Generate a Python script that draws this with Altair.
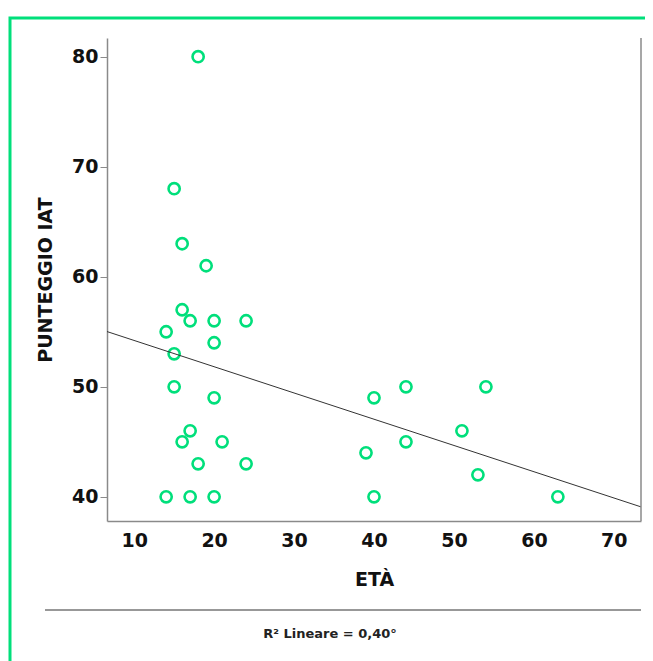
import altair as alt
import pandas as pd

# Data
eta = [18, 15, 16, 19, 16, 14, 17, 20, 24, 20, 15, 15, 20, 17, 16, 21, 18, 24, 14, 17, 20,
       40, 44, 54, 51, 39, 44, 40, 53, 63]
punteggio = [80, 68, 63, 61, 57, 55, 56, 56, 56, 54, 53, 50, 49, 46, 45, 45, 43, 43, 40, 40, 40,
             49, 50, 50, 46, 44, 45, 40, 42, 40]
x_ticks = [10, 20, 30, 40, 50, 60, 70]
y_ticks = [40, 50, 60, 70, 80]
x_domain = [6.6, 73.4]
y_domain = [37.8, 81.7]
x_title = "ETÀ"
y_title = "PUNTEGGIO IAT"
r2_text = "R² Lineare = 0,40°"

df = pd.DataFrame({"eta": eta, "punteggio": punteggio})
one = pd.DataFrame({"k": [0]})

W, H = 534, 483
GREEN = "#00DF7B"
FRAME = "#8a8a8a"
FONT = "DejaVu Sans"

x_enc = alt.X(
    "eta:Q",
    scale=alt.Scale(domain=x_domain, nice=False, zero=False),
    axis=alt.Axis(
        title=x_title, values=x_ticks, ticks=False, grid=False,
        domainColor=FRAME, domainWidth=1.5,
        labelFont=FONT, labelFontSize=19, labelFontWeight="bold", labelColor="#111",
        labelPadding=10,
        titleFont=FONT, titleFontSize=19, titleFontWeight="bold", titleColor="#111",
        titlePadding=20,
    ),
)
y_enc = alt.Y(
    "punteggio:Q",
    scale=alt.Scale(domain=y_domain, nice=False, zero=False),
    axis=alt.Axis(
        title=y_title, values=y_ticks, grid=False,
        tickSize=7, tickColor=FRAME, domainColor=FRAME, domainWidth=1.5,
        labelFont=FONT, labelFontSize=19, labelFontWeight="bold", labelColor="#111",
        labelPadding=2,
        titleFont=FONT, titleFontSize=19, titleFontWeight="bold", titleColor="#111",
        titlePadding=16,
    ),
)

points = alt.Chart(df).mark_point(
    shape="circle", filled=False, color=GREEN, strokeWidth=2.6, size=125, opacity=1
).encode(x=x_enc, y=y_enc)

reg = alt.Chart(df).transform_regression(
    "eta", "punteggio", extent=x_domain
).mark_line(color="#333333", strokeWidth=1, clip=True).encode(x=x_enc, y=y_enc)

right_border = alt.Chart(one).mark_rule(color=FRAME, strokeWidth=1.5).encode(
    x=alt.value(W), y=alt.value(0), y2=alt.value(H)
)

green_frame = alt.Chart(one).mark_rect(
    fillOpacity=0, stroke=GREEN, strokeWidth=3
).encode(
    x=alt.value(-97), x2=alt.value(W + 60), y=alt.value(-20), y2=alt.value(H + 250)
)

sep_line = alt.Chart(one).mark_rule(color="#333333", strokeWidth=1.2).encode(
    x=alt.value(-62), x2=alt.value(W), y=alt.value(572)
)

r2 = alt.Chart(one).mark_text(
    text=r2_text, font=FONT, fontSize=13, fontWeight="bold", color="#222222",
    align="center", baseline="middle"
).encode(x=alt.value(223), y=alt.value(596))

chart = alt.layer(green_frame, points, reg, right_border, sep_line, r2).properties(
    width=W, height=H,
    background="white",
    autosize=alt.AutoSizeParams(type="none"),
    padding={"left": 99, "top": 30, "right": 4, "bottom": 140},
).configure_view(strokeWidth=0, stroke="transparent")

chart.save("out.html", embed_options={"renderer": "svg", "actions": False})
